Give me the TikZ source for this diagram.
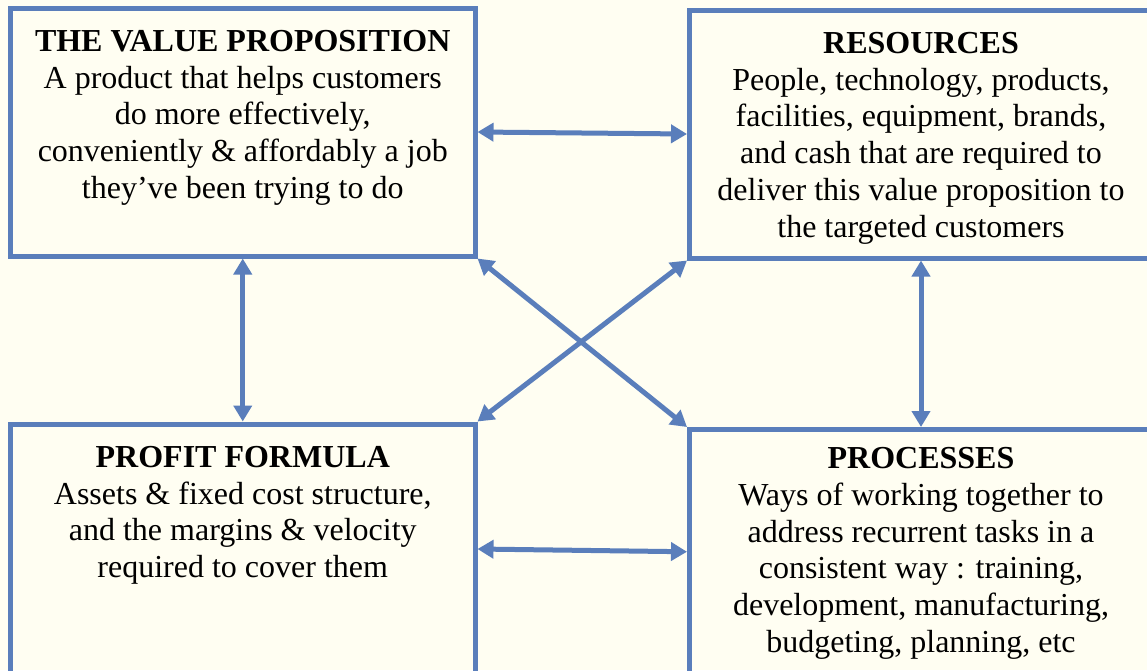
\documentclass[tikz,border=0pt]{standalone}
\usepackage{fontspec}
\setmainfont{Liberation Serif}
\usetikzlibrary{arrows.meta}
\definecolor{boxblue}{RGB}{90,126,187}
\definecolor{bgivory}{RGB}{255,254,242}
\tikzset{
  box/.style={draw=boxblue, line width=5pt, fill=none, inner sep=0pt},
  txt/.style={anchor=north, align=center, inner sep=0pt, text=black,
    font=\fontsize{32}{36.8}\selectfont},
  link/.style={draw=boxblue, line width=5pt,
    {Triangle[length=16pt,width=18pt]}-{Triangle[length=16pt,width=18pt]}},
}
\begin{document}
\begin{tikzpicture}[x=1pt,y=-1pt]
\clip (0,0) rectangle (1147,670);
\fill[bgivory] (0,0) rectangle (1147,670);
% boxes
\node[box, minimum width=464.5pt, minimum height=248pt] (vp) at (242.75,132) {};
\node[box, minimum width=463pt, minimum height=248pt] (res) at (921,134) {};
\node[box, minimum width=464.5pt, minimum height=250pt] (pf) at (242.75,549) {};
\node[box, minimum width=463pt, minimum height=244.5pt] (pr) at (921,551.75) {};
% texts
\node[txt] (vpt) at (242.75,30) {\textbf{THE VALUE PROPOSITION}\\A product that helps customers\\do more effectively,\\conveniently \& affordably a job\\they’ve been trying to do};
\node[txt] (rest) at (921,32) {\textbf{RESOURCES}\\People, technology, products,\\facilities, equipment, brands,\\and cash that are required to\\deliver this value proposition to\\the targeted customers};
\node[txt] (pft) at (242.75,446) {\textbf{PROFIT FORMULA}\\Assets \& fixed cost structure,\\and the margins \& velocity\\required to cover them};
\node[txt] (prt) at (921,447) {\textbf{PROCESSES}\\Ways of working together to\\address recurrent tasks in a\\consistent way : training,\\development, manufacturing,\\budgeting, planning, etc};
% connectors
\draw[link] (vp.east) -- (res.west);
\draw[link] (pf.east |- 0,549) -- (pr.west);
\draw[link] (vp.south) -- (pf.north);
\draw[link] (res.south) -- (pr.north);
\draw[link] (vp.south east) -- (pr.north west);
\draw[link] (res.south west) -- (pf.north east);
\end{tikzpicture}
\end{document}
